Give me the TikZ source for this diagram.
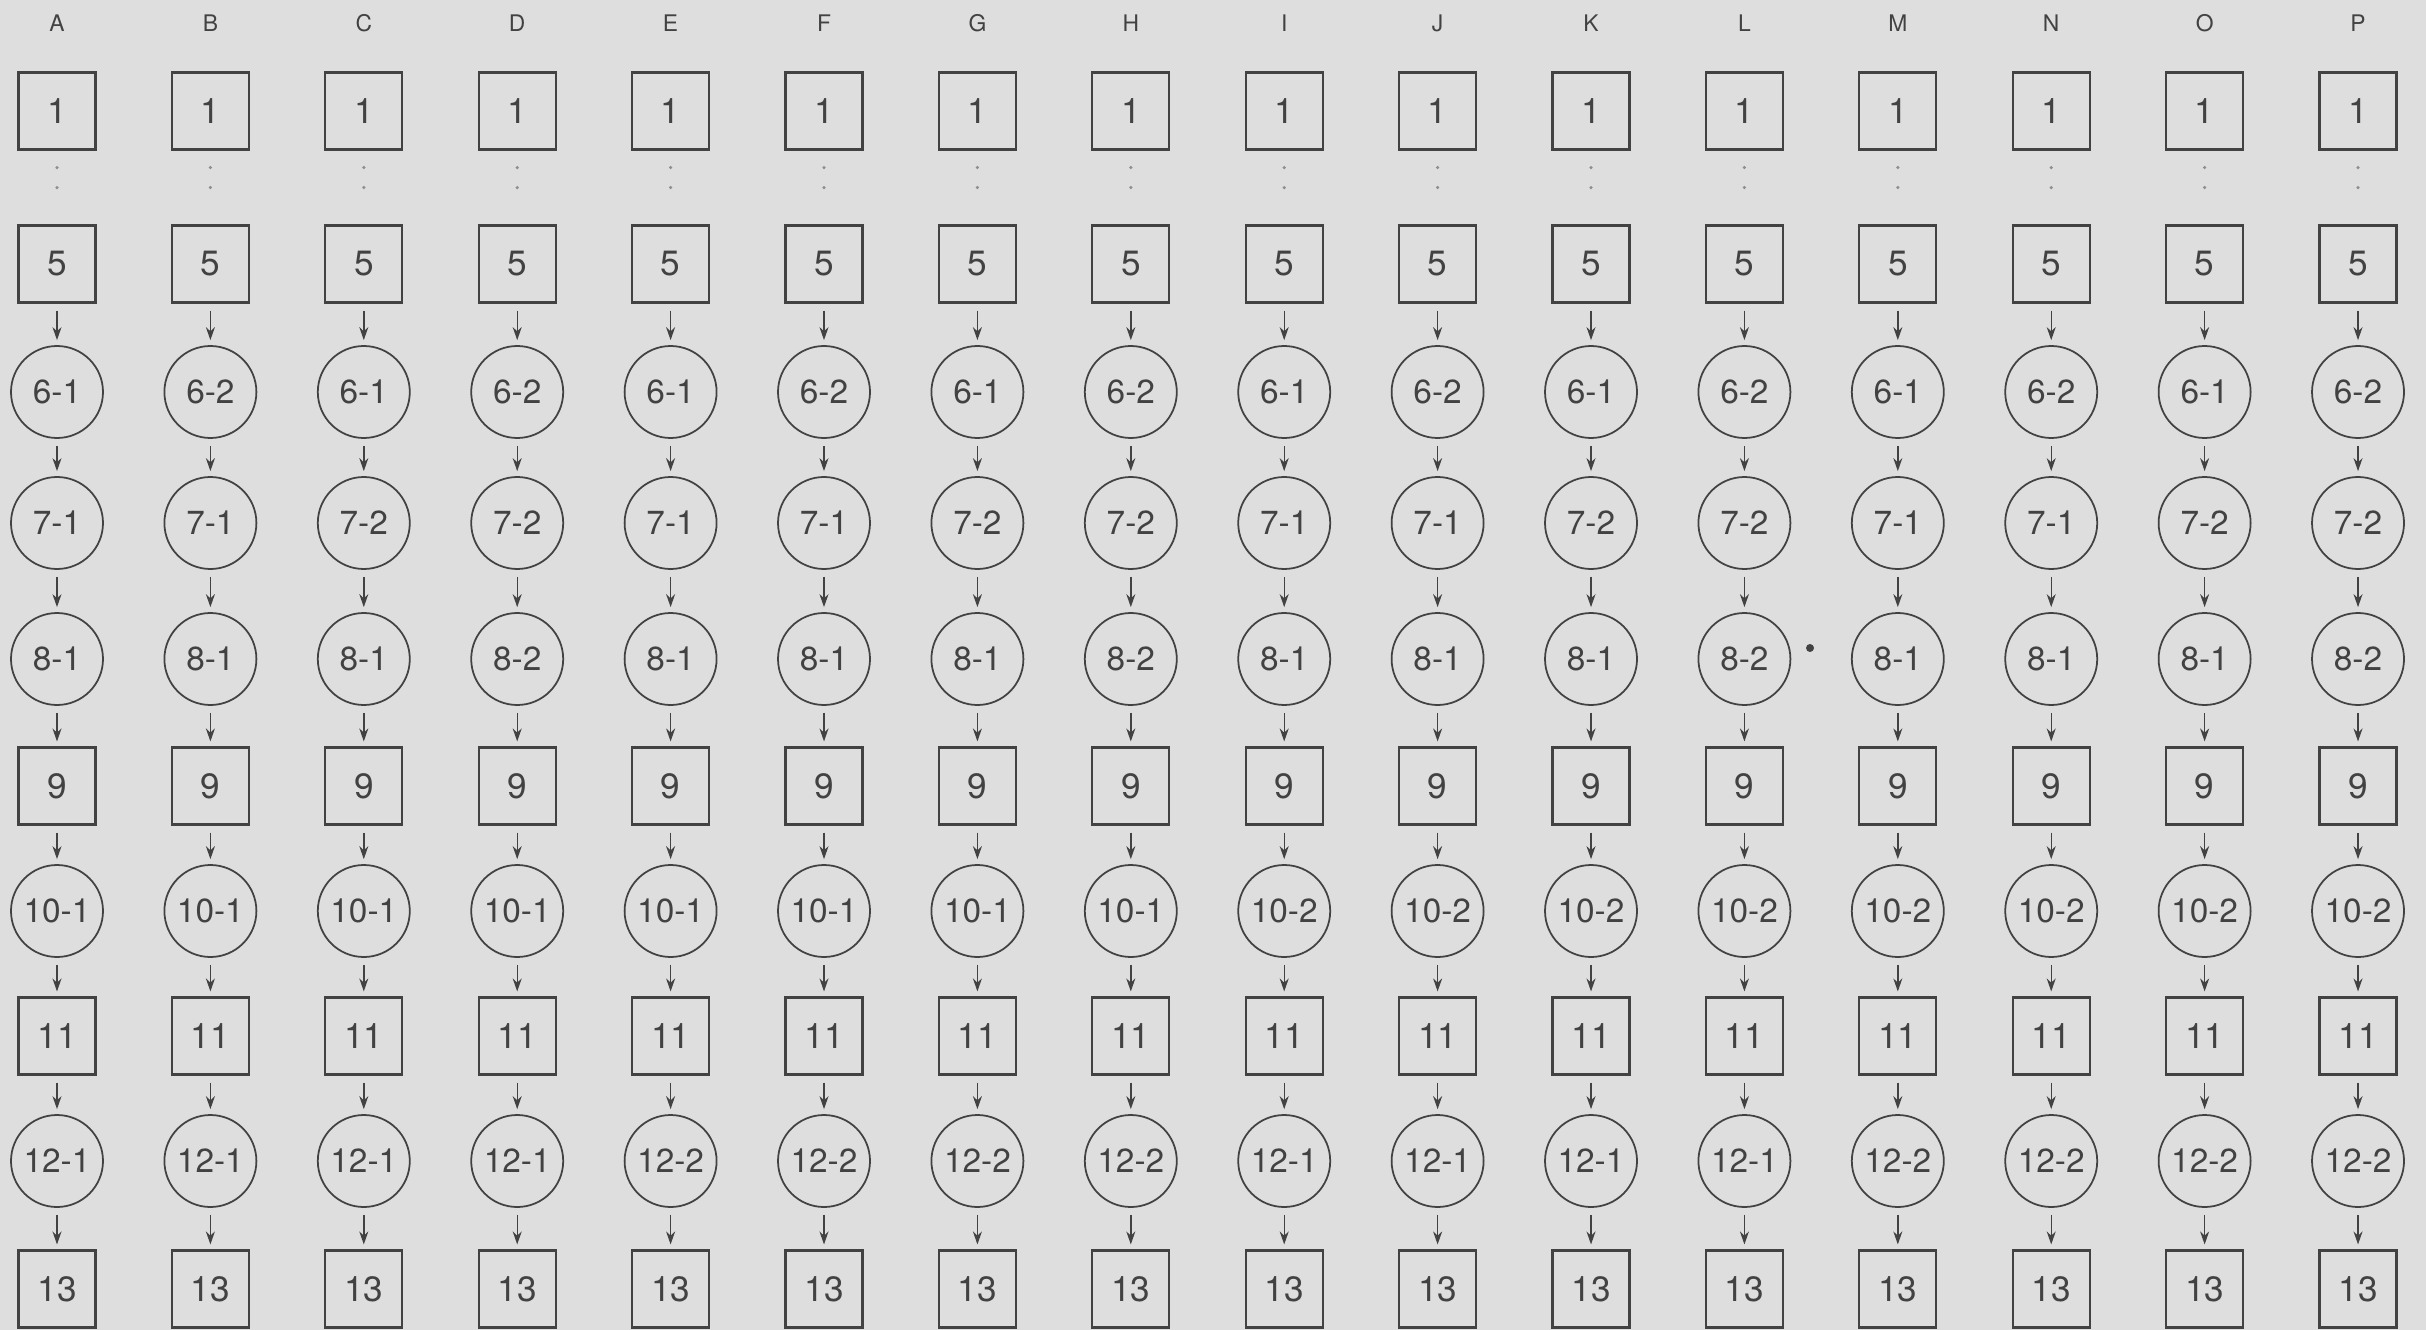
\documentclass[tikz,border=0pt]{standalone}
\usepackage{fontspec}
\setmainfont{TeX Gyre Heros}
\usetikzlibrary{arrows.meta}
\definecolor{paper}{RGB}{222,222,222}
\definecolor{ink}{RGB}{66,66,66}

\begin{document}
\begin{tikzpicture}[x=0.1mm, y=-0.1mm,
    sq/.style={draw=ink, line width=0.6pt, minimum size=7.7mm, inner sep=0pt, text=ink, font=\fontsize{10}{12}\selectfont},
    rnd/.style={sq, circle, line width=0.5pt, minimum size=9.2mm, font=\fontsize{9.5}{11}\selectfont},
    collab/.style={text=ink, font=\fontsize{6.5}{8}\selectfont},
    lnk/.style={draw=ink, line width=0.4pt, -{Stealth[length=1.3mm, width=0.9mm]}, shorten <=0.7mm, shorten >=0.5mm},
    gap/.style={draw=ink!60, line width=0.35mm, line cap=round, dash pattern=on 0pt off 2mm, shorten <=1.7mm, shorten >=1.7mm}]
  \fill[paper] (0,0) rectangle (2426,1330);
  % one column per variant: 6, 7, 8, 10, 12
  \foreach \cl/\six/\sev/\eig/\ten/\twe [count=\k] in {
      A/1/1/1/1/1, B/2/1/1/1/1, C/1/2/1/1/1, D/2/2/2/1/1,
      E/1/1/1/1/2, F/2/1/1/1/2, G/1/2/1/1/2, H/2/2/2/1/2,
      I/1/1/1/2/1, J/2/1/1/2/1, K/1/2/1/2/1, L/2/2/2/2/1,
      M/1/1/1/2/2, N/2/1/1/2/2, O/1/2/1/2/2, P/2/2/2/2/2} {
    \pgfmathsetmacro\x{57+153.4*(\k-1)}
    \node[collab] (\cl-h) at (\x,23) {\cl};
    \node[sq] (\cl-1) at (\x,111) {1};
    \node[sq] (\cl-5) at (\x,264) {5};
    \node[rnd] (\cl-6) at (\x,392) {6-\six};
    \node[rnd] (\cl-7) at (\x,523) {7-\sev};
    \node[rnd] (\cl-8) at (\x,659) {8-\eig};
    \node[sq] (\cl-9) at (\x,786) {9};
    \node[rnd] (\cl-10) at (\x,911) {10-\ten};
    \node[sq] (\cl-11) at (\x,1036) {11};
    \node[rnd] (\cl-12) at (\x,1161) {12-\twe};
    \node[sq] (\cl-13) at (\x,1289) {13};
    \draw[gap] (\cl-1) -- (\cl-5);
    \foreach \u/\v in {5/6, 6/7, 7/8, 8/9, 9/10, 10/11, 11/12, 12/13}
      \draw[lnk] (\cl-\u) -- (\cl-\v);
  }
  \node[circle, fill=ink, inner sep=0pt, minimum size=0.8mm] (speck) at (1810,648) {};
\end{tikzpicture}
\end{document}
